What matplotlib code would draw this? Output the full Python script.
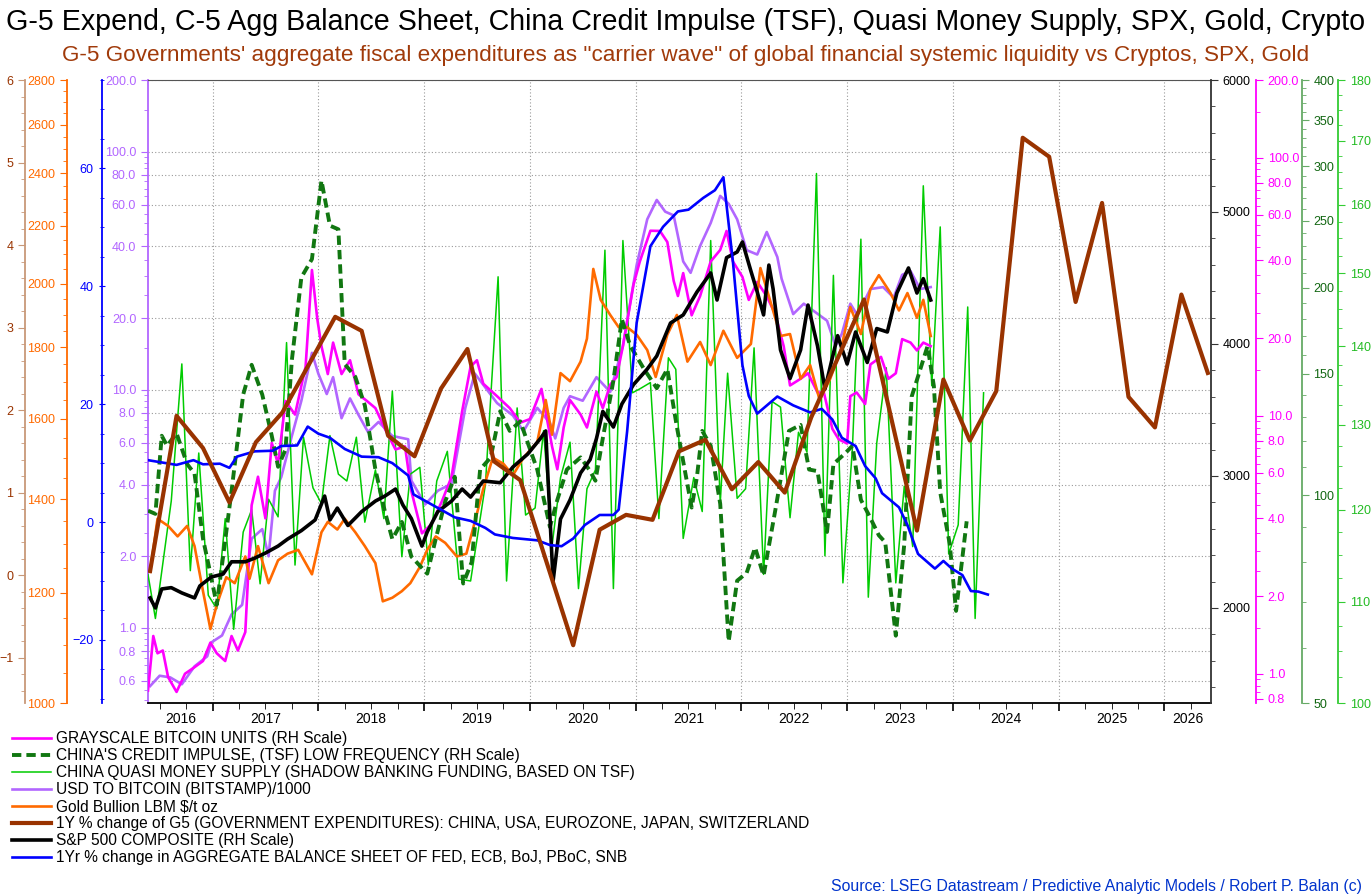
import numpy as np
import matplotlib
matplotlib.use('Agg')
import matplotlib.pyplot as plt
from matplotlib.ticker import FixedLocator, MultipleLocator, NullFormatter, FormatStrFormatter, LogLocator

plt.rcParams['font.family'] = ['Liberation Sans', 'DejaVu Sans']

# ---- data (decimal years) ----
# 1Y % change G5 government expenditures
g5_t = [2016.41, 2016.66, 2016.91, 2017.16, 2017.41, 2017.66, 2018.16, 2018.41, 2018.66, 2018.91,
        2019.16, 2019.41, 2019.66, 2019.91, 2020.41, 2020.66, 2020.91, 2021.16, 2021.41, 2021.66,
        2021.91, 2022.16, 2022.41, 2022.66, 2023.16, 2023.66, 2023.91, 2024.16, 2024.41, 2024.66,
        2024.91, 2025.16, 2025.41, 2025.66, 2025.91, 2026.16, 2026.41]
g5_v = [0.05, 1.93, 1.54, 0.88, 1.61, 1.97, 3.13, 2.96, 1.69, 1.44,
        2.26, 2.74, 1.38, 1.15, -0.85, 0.55, 0.73, 0.67, 1.50, 1.64,
        1.04, 1.37, 1.00, 1.91, 3.34, 0.54, 2.37, 1.63, 2.23, 5.30,
        5.07, 3.31, 4.51, 2.16, 1.79, 3.40, 2.45]

# 1Yr % change aggregate balance sheet Fed, ECB, BoJ, PBoC, SNB
bs_t = [2016.39, 2016.66, 2016.82, 2016.91, 2017.07, 2017.16, 2017.23, 2017.40, 2017.57, 2017.65,
        2017.80, 2017.90, 2018.00, 2018.11, 2018.25, 2018.41, 2018.57, 2018.70, 2018.85, 2018.90,
        2019.07, 2019.29, 2019.44, 2019.58, 2019.67, 2019.84, 2020.07, 2020.19, 2020.30, 2020.41,
        2020.52, 2020.66, 2020.79, 2020.84, 2020.92, 2021.01, 2021.14, 2021.26, 2021.40, 2021.50,
        2021.64, 2021.75, 2021.83, 2021.92, 2022.01, 2022.07, 2022.15, 2022.34, 2022.49, 2022.65,
        2022.76, 2022.86, 2022.95, 2023.08, 2023.17, 2023.27, 2023.33, 2023.49, 2023.57, 2023.67,
        2023.83, 2023.91, 2023.99, 2024.09, 2024.17, 2024.24, 2024.33]
bs_v = [10.5, 9.7, 10.5, 9.8, 9.9, 9.2, 11.1, 12.0, 12.1, 12.9,
        13.0, 16.2, 15.0, 14.3, 12.4, 11.1, 11.0, 10.0, 7.9, 4.7,
        3.0, 0.8, 0.2, -1.0, -2.1, -2.7, -3.1, -3.9, -4.1, -2.8,
        -0.5, 1.2, 1.2, 2.1, 15.4, 33.8, 46.8, 50.1, 52.7, 53.0,
        55.0, 56.3, 58.5, 44.2, 26.6, 21.4, 18.4, 21.3, 19.8, 18.6,
        19.2, 17.4, 14.3, 12.9, 9.5, 7.4, 4.9, 2.5, -0.5, -5.4,
        -7.9, -6.6, -7.9, -9.0, -11.7, -11.8, -12.3]

# S&P 500
spx_t = [2016.41, 2016.46, 2016.52, 2016.61, 2016.71, 2016.83, 2016.88, 2016.99,
         2017.10, 2017.18, 2017.31, 2017.40, 2017.50, 2017.62, 2017.71, 2017.84, 2017.97,
         2018.06, 2018.11, 2018.18, 2018.28, 2018.41, 2018.54, 2018.63, 2018.73, 2018.80, 2018.88, 2018.98,
         2019.03, 2019.13, 2019.26, 2019.36, 2019.44, 2019.56, 2019.72, 2019.84, 2019.98,
         2020.10, 2020.15, 2020.22, 2020.29, 2020.38, 2020.48, 2020.57, 2020.63, 2020.69, 2020.79, 2020.87, 2020.98,
         2021.11, 2021.20, 2021.33, 2021.45, 2021.58, 2021.71, 2021.77, 2021.86, 2021.96,
         2022.01, 2022.09, 2022.15, 2022.21, 2022.26, 2022.30, 2022.37, 2022.46, 2022.56, 2022.63, 2022.72, 2022.79, 2022.91,
         2023.00, 2023.08, 2023.19, 2023.28, 2023.38, 2023.47, 2023.58, 2023.66, 2023.72, 2023.79]
spx_v = [2076, 2000, 2144, 2154, 2114, 2076, 2167, 2235,
         2257, 2350, 2350, 2378, 2416, 2469, 2522, 2586, 2667,
         2848, 2667, 2757, 2625, 2730, 2810, 2848, 2901, 2780, 2677, 2469,
         2576, 2730, 2810, 2901, 2840, 2962, 2949, 3068, 3166,
         3284, 3341, 2204, 2674, 2818, 3023, 3124, 3284, 3489, 3371, 3545, 3692,
         3810, 3909, 4159, 4220, 4394, 4538, 4333, 4654, 4697,
         4773, 4553, 4394, 4220, 4598, 4417, 3955, 3738, 3955, 4295, 3985, 3659, 4063,
         3848, 4091, 3860, 4117, 4091, 4386, 4576, 4386, 4495, 4333]

# Gold bullion $/oz
gold_t = [2016.41, 2016.48, 2016.58, 2016.67, 2016.76, 2016.83, 2016.91, 2016.98,
          2017.04, 2017.13, 2017.21, 2017.31, 2017.35, 2017.43, 2017.53, 2017.62, 2017.71, 2017.81, 2017.94,
          2018.03, 2018.09, 2018.18, 2018.25, 2018.35, 2018.44, 2018.54, 2018.61, 2018.70, 2018.79, 2018.87, 2018.96,
          2019.03, 2019.11, 2019.20, 2019.31, 2019.40, 2019.48, 2019.56, 2019.65, 2019.75, 2019.84, 2019.94,
          2020.07, 2020.15, 2020.21, 2020.29, 2020.38, 2020.48, 2020.54, 2020.60, 2020.67, 2020.76, 2020.84, 2020.92,
          2021.01, 2021.11, 2021.19, 2021.30, 2021.39, 2021.49, 2021.61, 2021.71, 2021.83, 2021.96,
          2022.09, 2022.18, 2022.27, 2022.37, 2022.46, 2022.56, 2022.65, 2022.74, 2022.84, 2022.94,
          2023.03, 2023.13, 2023.22, 2023.30, 2023.41, 2023.49, 2023.57, 2023.66, 2023.72, 2023.79]
gold_v = [1242, 1356, 1340, 1317, 1340, 1296, 1203, 1130,
          1176, 1231, 1219, 1274, 1228, 1296, 1219, 1266, 1280, 1288, 1237,
          1326, 1349, 1332, 1356, 1326, 1296, 1260, 1183, 1190, 1203, 1219, 1252,
          1288, 1317, 1303, 1274, 1280, 1349, 1425, 1500, 1485, 1457, 1500,
          1539, 1650, 1558, 1725, 1702, 1758, 1826, 2049, 1947, 1899, 1861, 1861,
          1838, 1792, 1714, 1838, 1899, 1758, 1816, 1748, 1850, 1769,
          1810, 2052, 1947, 1834, 1840, 1709, 1748, 1650, 1709, 1792,
          1924, 1840, 1982, 2028, 1969, 1913, 1969, 1890, 1947, 1834]

# USD to Bitcoin /1000
btc_t = [2016.41, 2016.50, 2016.60, 2016.71, 2016.83, 2016.95, 2016.99,
         2017.09, 2017.18, 2017.28, 2017.37, 2017.47, 2017.53, 2017.59, 2017.65, 2017.75, 2017.84, 2017.94,
         2018.00, 2018.08, 2018.14, 2018.22, 2018.30, 2018.38, 2018.47, 2018.57, 2018.70, 2018.85, 2018.88,
         2019.01, 2019.13, 2019.26, 2019.39, 2019.48, 2019.56, 2019.69, 2019.84, 2019.94,
         2020.07, 2020.19, 2020.24, 2020.32, 2020.38, 2020.50, 2020.63, 2020.76, 2020.88,
         2021.01, 2021.11, 2021.20, 2021.28, 2021.36, 2021.45, 2021.52, 2021.61, 2021.71, 2021.80, 2021.88, 2021.96,
         2022.05, 2022.15, 2022.24, 2022.34, 2022.38, 2022.49, 2022.59, 2022.68, 2022.81, 2022.89, 2022.95,
         2023.03, 2023.09, 2023.15, 2023.22, 2023.34, 2023.44, 2023.52, 2023.60, 2023.69, 2023.79]
btc_v = [0.57, 0.63, 0.62, 0.58, 0.69, 0.76, 0.87,
         0.93, 1.14, 1.25, 2.37, 2.6, 2.0, 3.77, 4.3, 6.4, 9.0, 14.3,
         11.7, 9.6, 11.3, 7.6, 9.2, 7.85, 6.65, 7.33, 6.4, 6.2, 4.16,
         3.3, 3.77, 4.03, 8.4, 11.7, 10.5, 8.8, 7.8, 6.7,
         8.4, 7.26, 6.25, 8.4, 9.4, 9.0, 11.3, 9.8, 15.3,
         33.4, 52, 62.7, 56, 54, 34.6, 31, 40.2, 50.2, 65.2, 60.4, 52,
         38.6, 37, 46, 36.1, 29.3, 20.8, 23, 21.5, 19.5, 15.3, 17.2,
         23, 20.8, 23, 26.5, 27, 24.4, 30.4, 31.5, 26.5, 27]

# Grayscale bitcoin units
gbtc_t = [2016.39, 2016.44, 2016.48, 2016.53, 2016.58, 2016.66, 2016.74, 2016.83, 2016.91, 2016.98,
          2017.04, 2017.12, 2017.18, 2017.24, 2017.31, 2017.37, 2017.43, 2017.50, 2017.56, 2017.62,
          2017.69, 2017.78, 2017.88, 2017.94, 2017.99,
          2018.03, 2018.09, 2018.14, 2018.22, 2018.30, 2018.38, 2018.46, 2018.54, 2018.63, 2018.73,
          2018.82, 2018.88, 2018.98,
          2019.07, 2019.17, 2019.26, 2019.36, 2019.44, 2019.50, 2019.56, 2019.69, 2019.81, 2019.91,
          2020.00, 2020.11, 2020.21, 2020.26, 2020.32, 2020.38, 2020.48, 2020.54, 2020.63, 2020.69,
          2020.76, 2020.82, 2020.88, 2020.98,
          2021.04, 2021.14, 2021.23, 2021.30, 2021.36, 2021.40, 2021.45, 2021.53, 2021.61, 2021.71,
          2021.80, 2021.86, 2021.92,
          2022.01, 2022.07, 2022.15, 2022.24, 2022.32, 2022.40, 2022.46, 2022.56, 2022.63, 2022.72,
          2022.78, 2022.86, 2022.92,
          2023.00, 2023.03, 2023.09, 2023.17, 2023.22, 2023.32, 2023.39, 2023.46, 2023.52, 2023.60,
          2023.66, 2023.72, 2023.79]
gbtc_v = [0.86, 1.4, 1.2, 1.23, 0.97, 0.85, 1.0, 1.06, 1.12, 1.32,
          1.2, 1.12, 1.4, 1.23, 1.45, 4.5, 5.8, 4.0, 7.85, 6.5,
          11.4, 10.1, 15.5, 36.7, 23.8,
          18.6, 14.5, 19.2, 14.5, 16.4, 12.1, 11.4, 10.7, 8.9, 7.4,
          7.6, 5.1, 3.5,
          3.8, 4.67, 5.8, 10.4, 15.5, 16.4, 13.3, 11.9, 10.7, 9.4,
          9.7, 12.7, 7.6, 6.2, 9.0, 11.5, 10.1, 9.0, 12.4, 10.7,
          13.2, 14.1, 18.6, 32.2,
          39.6, 52.1, 52, 47.1, 33.3, 29.1, 35.7, 24.5, 29.1, 39.6,
          43.9, 52, 39.6,
          34.5, 28.1, 33, 29, 24.8, 18.6, 13.1, 13.9, 14.6, 12.3,
          12.3, 8.9, 8.1,
          7.8, 11.9, 12.3, 11.1, 15.8, 16.9, 13.9, 14.6, 19.8, 19.2,
          17.9, 19.2, 18.6]

# China credit impulse (TSF), low frequency
ci_t = [2016.39, 2016.46, 2016.52, 2016.57, 2016.66, 2016.76, 2016.83, 2016.91, 2016.98,
        2017.04, 2017.10, 2017.18, 2017.29, 2017.37, 2017.47, 2017.56, 2017.62, 2017.69, 2017.75, 2017.84, 2017.94,
        2018.03, 2018.11, 2018.19, 2018.25, 2018.35, 2018.44, 2018.54, 2018.63, 2018.70, 2018.79, 2018.88,
        2019.03, 2019.11, 2019.20, 2019.29, 2019.37, 2019.45, 2019.53, 2019.63, 2019.72, 2019.81, 2019.91, 2019.99,
        2020.07, 2020.19, 2020.26, 2020.35, 2020.48, 2020.56, 2020.62, 2020.69, 2020.79, 2020.87, 2020.95,
        2021.08, 2021.20, 2021.30, 2021.39, 2021.53, 2021.58, 2021.63, 2021.71, 2021.80, 2021.88, 2021.96,
        2022.05, 2022.13, 2022.21, 2022.32, 2022.45, 2022.56, 2022.64, 2022.72, 2022.81, 2022.87, 2022.98,
        2023.05, 2023.13, 2023.20, 2023.30, 2023.36, 2023.46, 2023.54, 2023.61, 2023.76, 2023.82, 2023.88, 2023.97,
        2024.03, 2024.13]
ci_v = [95, 94, 122, 118, 123, 111, 107.5, 86.5, 77,
        69.4, 81.5, 101.5, 140, 154.6, 140, 122, 110, 116.5, 157, 207, 220,
        286, 246, 243, 155, 148.5, 135, 109, 94.7, 86.4, 91.5, 81.5,
        77, 86.4, 98, 106.4, 74.5, 80, 109, 113.5, 132.4, 124, 128, 118,
        109, 90, 98.5, 109, 113.5, 109, 105, 121, 146.6, 180, 164.6,
        152.4, 143, 152.4, 125.7, 96, 106.4, 124, 118, 97.2, 61.4, 75.2,
        77.2, 84, 76.5, 95, 124, 126.5, 109, 108.4, 88.5, 111, 115,
        118, 98.5, 94, 87.5, 85.5, 62.6, 85, 139, 164.5, 144, 101, 85,
        68, 91.7]

# China quasi money supply
qm_t = [2016.39, 2016.46, 2016.61, 2016.71, 2016.79, 2016.87, 2016.96,
        2017.04, 2017.12, 2017.20, 2017.29, 2017.37, 2017.45, 2017.53, 2017.62, 2017.70, 2017.78, 2017.86, 2017.95,
        2018.03, 2018.11, 2018.19, 2018.27, 2018.36, 2018.44, 2018.54, 2018.62, 2018.70, 2018.79, 2018.87, 2018.96,
        2019.04, 2019.12, 2019.22, 2019.33, 2019.44, 2019.58, 2019.70, 2019.78, 2019.88, 2019.96,
        2020.05, 2020.13, 2020.21, 2020.29, 2020.38, 2020.46, 2020.54, 2020.62, 2020.71, 2020.79, 2020.88, 2020.97,
        2021.04, 2021.14, 2021.22, 2021.31, 2021.38, 2021.45, 2021.55, 2021.63, 2021.71, 2021.80, 2021.87, 2021.96,
        2022.04, 2022.12, 2022.21, 2022.29, 2022.37, 2022.46, 2022.54, 2022.62, 2022.71, 2022.79, 2022.87, 2022.96,
        2023.05, 2023.13, 2023.20, 2023.28, 2023.37, 2023.46, 2023.54, 2023.62, 2023.72, 2023.80, 2023.88, 2023.96,
        2024.05, 2024.14, 2024.21, 2024.29]
qm_v = [112.9, 108.3, 121, 137.7, 113.3, 126.6, 110.7,
        109.3, 119, 107.2, 117.5, 120, 111.9, 121.2, 119.2, 140.5, 113.9, 128.5, 122.5,
        120.7, 128.7, 124.1, 123.3, 128.5, 118.6, 124.6, 119, 134.2, 114.8, 124.1, 124.9,
        113.9, 123.3, 126.8, 112.4, 112.2, 122.9, 149.5, 112.2, 132.1, 119.4,
        120.2, 129.3, 116, 123.7, 127.9, 111.4, 122.4, 124.6, 153.3, 111.4, 154.7, 134,
        134.5, 135.3, 119, 138.5, 137, 116.8, 123.7, 119.8, 154.7, 120.7, 136.5, 121.3,
        122.4, 139.8, 112.9, 132.9, 132.2, 119.1, 129.1, 126.7, 164.8, 114.9, 149.7, 112,
        127.2, 154.9, 110.5, 127.8, 137.2, 112, 122.7, 115.9, 162.9, 134.9, 156.7, 115.1,
        118.3, 145.3, 108.3, 134]

years = list(range(2016, 2027))
x_min, x_max = 2016.39, 2026.44

labels = ['GRAYSCALE BITCOIN UNITS (RH Scale)',
          "CHINA'S CREDIT IMPULSE, (TSF) LOW FREQUENCY (RH Scale)",
          'CHINA QUASI MONEY SUPPLY (SHADOW BANKING FUNDING, BASED ON TSF)',
          'USD TO BITCOIN (BITSTAMP)/1000',
          'Gold Bullion LBM $/t oz',
          '1Y % change of G5 (GOVERNMENT EXPENDITURES): CHINA, USA, EUROZONE, JAPAN, SWITZERLAND',
          'S&P 500 COMPOSITE (RH Scale)',
          '1Yr % change in AGGREGATE BALANCE SHEET OF FED, ECB, BoJ, PBoC, SNB']

c_purple = '#B266FF'
c_magenta = '#FF00FF'
c_green = '#00CC00'
c_dgreen = '#117711'
c_orange = '#FF6A00'
c_brown = '#993300'
c_blue = '#0000FF'
tick_fs = 9

fig = plt.figure(figsize=(13.72, 8.96), dpi=100)
ax = fig.add_axes([0.10787, 0.2154, 0.77478, 0.69531])


def side_axis(side, pos, spine_col, label_col):
    a = ax.twinx()
    a.patch.set_visible(False)
    for s in ['top', 'bottom', 'left', 'right']:
        a.spines[s].set_visible(False)
    a.yaxis.set_ticks_position(side)
    a.yaxis.set_label_position(side)
    a.spines[side].set_visible(True)
    a.spines[side].set_position(('axes', pos))
    a.spines[side].set_color(spine_col)
    a.spines[side].set_linewidth(1.3)
    a.tick_params(axis='y', which='both', colors=spine_col, labelcolor=label_col, labelsize=tick_fs)
    a.tick_params(axis='y', which='major', length=5)
    a.tick_params(axis='y', which='minor', length=3)
    return a


# host: USD to bitcoin (log), carries the grid
ax.set_yscale('log')
ax.set_ylim(0.484, 200)
ax.set_xlim(x_min, x_max)
ax.yaxis.set_major_locator(FixedLocator([0.6, 0.8, 1, 2, 4, 6, 8, 10, 20, 40, 60, 80, 100, 200]))
ax.yaxis.set_major_formatter(FormatStrFormatter('%.1f'))
ax.yaxis.set_minor_locator(LogLocator(base=10, subs=np.arange(1.0, 10.0, 0.5)))
ax.yaxis.set_minor_formatter(NullFormatter())
ax.tick_params(axis='y', which='both', colors=c_purple, labelsize=tick_fs)
ax.tick_params(axis='y', which='major', length=5)
ax.tick_params(axis='y', which='minor', length=3)
ax.spines['left'].set_color(c_purple)
ax.spines['left'].set_linewidth(1.3)
ax.spines['right'].set_visible(False)
ax.spines['top'].set_color('#555555')
ax.spines['bottom'].set_linewidth(1.3)
ax.set_xticks(years[1:])
ax.xaxis.set_minor_locator(FixedLocator([y + q for y in years for q in (0.25, 0.5, 0.75)
                                         if x_min < y + q < x_max]))
ax.tick_params(axis='x', which='both', labelbottom=False, direction='out')
ax.tick_params(axis='x', which='major', length=6, width=1.2)
ax.tick_params(axis='x', which='minor', length=4)
ax.grid(True, which='major', linestyle=(0, (1, 2)), color='#9a9a9a', linewidth=0.8)
ax.set_axisbelow(True)
l_btc, = ax.plot(btc_t, btc_v, color=c_purple, lw=1.9)

for y in years:
    lo, hi = max(y, x_min), min(y + 1, x_max)
    ax.text((lo + hi) / 2, -0.025, str(y), transform=ax.get_xaxis_transform(),
            ha='center', va='center', fontsize=10)

# China quasi money
a_qm = side_axis('right', 1.1195, '#33CC33', '#22BB22')
a_qm.set_yscale('log')
a_qm.set_ylim(100, 180)
a_qm.yaxis.set_major_locator(FixedLocator(range(100, 181, 10)))
a_qm.yaxis.set_major_formatter(FormatStrFormatter('%d'))
a_qm.yaxis.set_minor_locator(MultipleLocator(2.5))
a_qm.yaxis.set_minor_formatter(NullFormatter())
l_qm, = a_qm.plot(qm_t, qm_v, color=c_green, lw=1.1)

# Grayscale
a_gb = side_axis('right', 1.0423, c_magenta, c_magenta)
a_gb.set_yscale('log')
a_gb.set_ylim(0.77, 200)
a_gb.yaxis.set_major_locator(FixedLocator([0.8, 1, 2, 4, 6, 8, 10, 20, 40, 60, 80, 100, 200]))
a_gb.yaxis.set_major_formatter(FormatStrFormatter('%.1f'))
a_gb.yaxis.set_minor_locator(LogLocator(base=10, subs=np.arange(1.0, 10.0, 0.5)))
a_gb.yaxis.set_minor_formatter(NullFormatter())
l_gbtc, = a_gb.plot(gbtc_t, gbtc_v, color=c_magenta, lw=1.9)

# Gold
a_gold = side_axis('left', -0.0765, c_orange, c_orange)
a_gold.set_yscale('log')
a_gold.set_ylim(1000, 2800)
a_gold.yaxis.set_major_locator(FixedLocator(range(1000, 2801, 200)))
a_gold.yaxis.set_major_formatter(FormatStrFormatter('%d'))
a_gold.yaxis.set_minor_locator(MultipleLocator(50))
a_gold.yaxis.set_minor_formatter(NullFormatter())
l_gold, = a_gold.plot(gold_t, gold_v, color=c_orange, lw=1.9)

# Credit impulse
a_ci = side_axis('right', 1.0853, '#66AA66', '#116611')
a_ci.set_yscale('log')
a_ci.set_ylim(50, 400)
a_ci.yaxis.set_major_locator(FixedLocator(range(50, 401, 50)))
a_ci.yaxis.set_major_formatter(FormatStrFormatter('%d'))
a_ci.yaxis.set_minor_locator(MultipleLocator(10))
a_ci.yaxis.set_minor_formatter(NullFormatter())
l_ci, = a_ci.plot(ci_t, ci_v, color=c_dgreen, lw=2.8, linestyle=(0, (2.4, 1.3)))

# S&P 500
a_spx = side_axis('right', 1.0, '#333333', 'black')
a_spx.set_ylim(1280, 6000)
a_spx.yaxis.set_major_locator(MultipleLocator(1000))
a_spx.yaxis.set_minor_locator(MultipleLocator(200))
l_spx, = a_spx.plot(spx_t, spx_v, color='black', lw=2.6)

# Balance sheet
a_bs = side_axis('left', -0.0436, c_blue, c_blue)
a_bs.set_ylim(-30.7, 75)
a_bs.yaxis.set_major_locator(MultipleLocator(20))
a_bs.yaxis.set_minor_locator(MultipleLocator(5))
a_bs.tick_params(axis='y', which='both', direction='inout')
l_bs, = a_bs.plot(bs_t, bs_v, color=c_blue, lw=1.9)

# G5 expenditures
a_g5 = side_axis('left', -0.1157, '#C89878', c_brown)
a_g5.set_ylim(-1.55, 6)
a_g5.yaxis.set_major_locator(MultipleLocator(1))
a_g5.yaxis.set_minor_locator(MultipleLocator(0.2))
l_g5, = a_g5.plot(g5_t, g5_v, color=c_brown, lw=3.0)

fig.text(0.5, 1 - 22 / 896,
         'G-5 Expend, C-5 Agg Balance Sheet, China Credit Impulse (TSF), Quasi Money Supply, SPX, Gold, Crypto',
         ha='center', va='center', fontsize=20.6)
fig.text(0.5, 1 - 55 / 896,
         'G-5 Governments\' aggregate fiscal expenditures as "carrier wave" of global financial '
         'systemic liquidity vs Cryptos, SPX, Gold',
         ha='center', va='center', fontsize=16.2, color='#A03A0A')

fig.legend([l_gbtc, l_ci, l_qm, l_btc, l_gold, l_g5, l_spx, l_bs], labels,
           loc='upper left', bbox_to_anchor=(12 / 1372, 1 - 731 / 896), frameon=False,
           fontsize=11.2, handlelength=2.5, handletextpad=0.35, labelspacing=0.13,
           borderpad=0, borderaxespad=0)

fig.text(1362 / 1372, 1 - 886 / 896,
         'Source: LSEG Datastream / Predictive Analytic Models / Robert P. Balan (c)',
         ha='right', va='center', fontsize=11.4, color='#0033CC')

fig.savefig('out.png', dpi=100)
